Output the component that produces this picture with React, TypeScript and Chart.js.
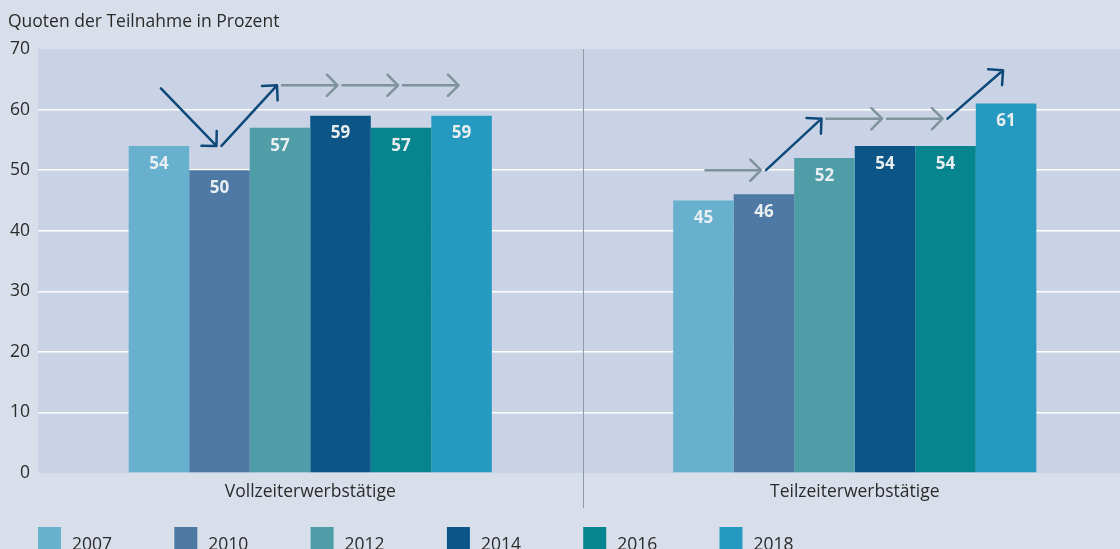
import { useEffect, useRef } from 'react';
import { Chart, registerables } from 'chart.js';
Chart.register(...registerables);

const title = 'Quoten der Teilnahme in Prozent';
const categories = ['Vollzeiterwerbstätige', 'Teilzeiterwerbstätige'];
const years = ['2007', '2010', '2012', '2014', '2016', '2018'];
const values2007 = [54, 45];
const values2010 = [50, 46];
const values2012 = [57, 52];
const values2014 = [59, 54];
const values2016 = [57, 54];
const values2018 = [59, 61];
const seriesValues = [values2007, values2010, values2012, values2014, values2016, values2018];
const seriesColors = ['#67b1cf', '#4d79a4', '#4f9da6', '#0b5687', '#07858f', '#2599c0'];
// trend arrow levels (per bar, in percent) for each category
const trendVollzeit = [63.5, 54, 64, 64, 64, 64];
const trendTeilzeit = [50, 50, 58.5, 58.5, 58.5, 66.5];
const trendLevels = [trendVollzeit, trendTeilzeit];
const yTicks = [0, 10, 20, 30, 40, 50, 60, 70];

const FONT = "'Open Sans', 'Noto Sans', sans-serif";
const TEXT = '#2b2b2b';
const FS = 17.5;

const bgPlugin = {
  id: 'bgPlugin',
  beforeDraw(chart: any) {
    const { ctx, chartArea } = chart;
    ctx.save();
    ctx.fillStyle = '#d9dfea';
    ctx.fillRect(0, 0, chart.width, chart.height);
    ctx.fillStyle = '#c9d3e5';
    ctx.fillRect(chartArea.left, chartArea.top, chartArea.right - chartArea.left, chartArea.bottom - chartArea.top);
    // title
    ctx.fillStyle = TEXT;
    ctx.font = `${FS}px ${FONT}`;
    ctx.textAlign = 'left';
    ctx.textBaseline = 'alphabetic';
    ctx.fillText(title, 8, 27);
    ctx.restore();
  },
};

const overlayPlugin = {
  id: 'overlayPlugin',
  afterDatasetsDraw(chart: any) {
    const { ctx, chartArea } = chart;
    const xs = chart.scales.x;
    const ys = chart.scales.y;
    ctx.save();
    // separator
    const sepX = Math.round((xs.getPixelForValue(0) + xs.getPixelForValue(1)) / 2) + 0.5;
    ctx.strokeStyle = '#8d9ba6';
    ctx.lineWidth = 1;
    ctx.beginPath();
    ctx.moveTo(sepX, chartArea.top);
    ctx.lineTo(sepX, 508);
    ctx.stroke();

    // data labels
    ctx.fillStyle = '#e9eef2';
    ctx.font = `bold 17px ${FONT}`;
    ctx.textAlign = 'center';
    ctx.textBaseline = 'middle';
    chart.data.datasets.forEach((ds: any, di: number) => {
      const meta = chart.getDatasetMeta(di);
      meta.data.forEach((bar: any, i: number) => {
        ctx.fillText(String(ds.data[i]), bar.x, bar.y + 18);
      });
    });

    // trend arrows
    ctx.lineWidth = 2.5;
    ctx.lineCap = 'round';
    ctx.lineJoin = 'round';
    trendLevels.forEach((levels, ci) => {
      for (let i = 0; i < levels.length - 1; i++) {
        const b1 = chart.getDatasetMeta(i).data[ci];
        const b2 = chart.getDatasetMeta(i + 1).data[ci];
        const x1 = b1.x + 2;
        const x2 = b2.x - 3;
        const y1 = ys.getPixelForValue(levels[i]);
        const y2 = ys.getPixelForValue(levels[i + 1]);
        ctx.strokeStyle = levels[i] === levels[i + 1] ? '#7f939d' : '#0d4a7a';
        ctx.beginPath();
        ctx.moveTo(x1, y1);
        ctx.lineTo(x2, y2);
        const ang = Math.atan2(y2 - y1, x2 - x1);
        const L = 15;
        ctx.moveTo(x2 + L * Math.cos(ang + Math.PI - Math.PI / 4), y2 + L * Math.sin(ang + Math.PI - Math.PI / 4));
        ctx.lineTo(x2, y2);
        ctx.lineTo(x2 + L * Math.cos(ang + Math.PI + Math.PI / 4), y2 + L * Math.sin(ang + Math.PI + Math.PI / 4));
        ctx.stroke();
      }
    });

    // legend
    ctx.font = `${FS}px ${FONT}`;
    ctx.textAlign = 'left';
    ctx.textBaseline = 'alphabetic';
    chart.data.datasets.forEach((ds: any, di: number) => {
      const lx = chartArea.left + di * 136.3;
      ctx.fillStyle = ds.backgroundColor;
      ctx.fillRect(lx, 527, 23, 23);
      ctx.fillStyle = TEXT;
      ctx.fillText(ds.label, lx + 34, 550);
    });
    ctx.restore();
  },
};

export default function App() {
  const ref = useRef<HTMLCanvasElement>(null);
  useEffect(() => {
    document.body.style.margin = '0';
    document.body.style.background = '#d9dfea';
    const chart = new Chart(ref.current!, {
      type: 'bar',
      data: {
        labels: categories,
        datasets: years.map((y, i) => ({
          label: y,
          data: seriesValues[i],
          backgroundColor: seriesColors[i],
          borderWidth: 0,
          categoryPercentage: 0.667,
          barPercentage: 1,
        })),
      },
      options: {
        responsive: false,
        animation: false,
        devicePixelRatio: 1,
        layout: { padding: { top: 49, bottom: 40, left: 0, right: 1 } },
        plugins: {
          legend: { display: false },
          tooltip: { enabled: false },
          title: { display: false },
        },
        scales: {
          x: {
            grid: { display: false, drawTicks: false },
            border: { display: false },
            ticks: { color: TEXT, font: { family: FONT, size: FS }, padding: 9 },
            afterFit(scale: any) { scale.height = 36; },
          },
          y: {
            min: 0,
            max: 70,
            afterBuildTicks(scale: any) { scale.ticks = yTicks.map((v) => ({ value: v })); },
            grid: {
              drawTicks: false,
              lineWidth: 1.5,
              color: (c: any) => (c.tick && (c.tick.value === 0 || c.tick.value === 70) ? 'rgba(0,0,0,0)' : '#ffffff'),
            },
            border: { display: false },
            ticks: { color: TEXT, font: { family: FONT, size: FS }, padding: 8 },
            afterFit(scale: any) { scale.width = 38; },
          },
        },
      },
      plugins: [bgPlugin, overlayPlugin],
    });
    return () => chart.destroy();
  }, []);
  return (
    <div style={{ width: 1120, height: 549, overflow: 'hidden', background: '#d9dfea' }}>
      <div style={{ width: 1128, height: 549 }}>
        <canvas ref={ref} width={1128} height={549} style={{ display: 'block' }} />
      </div>
    </div>
  );
}
